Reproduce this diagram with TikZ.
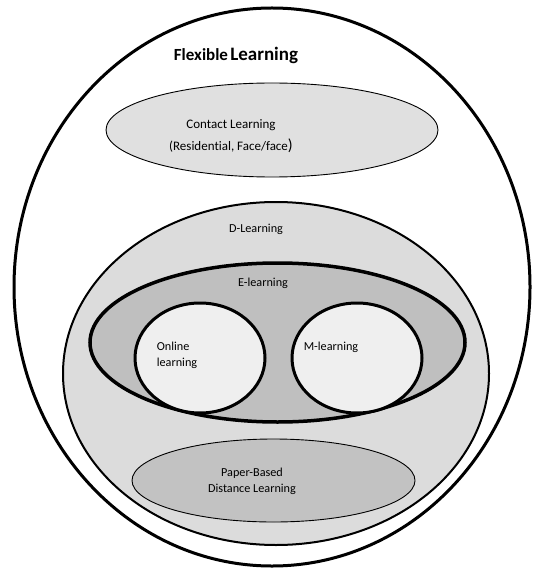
\documentclass[tikz,border=0pt]{standalone}
\usepackage{fontspec}
\setmainfont{Carlito}[Ligatures=CommonOff]
\usetikzlibrary{shapes.geometric}
\definecolor{contactgray}{HTML}{E0E0E0}
\definecolor{dgray}{HTML}{DCDCDC}
\definecolor{egray}{HTML}{BFBFBF}
\definecolor{lightgray}{HTML}{EFEFEF}
\definecolor{papergray}{HTML}{C2C2C2}
\tikzset{
  blob/.style={draw, ellipse, inner sep=0pt},
  lbl/.style={font=\fontsize{12.2}{16}\selectfont, inner sep=0pt}
}

\begin{document}
\begin{tikzpicture}[x=1pt,y=-1pt]
\useasboundingbox (0,0) rectangle (532,569);
\begin{scope}[shift={(0,0)}]
\node[blob, line width=3pt, fill=white, minimum width=516pt, minimum height=558pt] (flex) at (272,287) {};
\node[blob, line width=0.9pt, fill=contactgray, minimum width=332pt, minimum height=94pt] (contact) at (272,130) {};
\node[blob, line width=2pt, fill=dgray, minimum width=426pt, minimum height=343pt] (dl) at (276,373.5) {};
\node[blob, line width=3.5pt, fill=egray, minimum width=375pt, minimum height=159pt] (el) at (277.5,342.5) {};
\node[blob, line width=3pt, fill=lightgray, minimum width=130pt, minimum height=110pt] (online) at (200,358) {};
\node[blob, line width=3pt, fill=lightgray, minimum width=130pt, minimum height=110pt] (mobile) at (357,358) {};
\node[blob, line width=0.9pt, fill=papergray, minimum width=283pt, minimum height=83pt] (paper) at (273.5,480.5) {};
\node[inner sep=0pt, font=\bfseries] (flextxt) at (236,55) {{\fontsize{17}{20}\selectfont Flexible} {\fontsize{19}{22}\selectfont Learning}};
\node[lbl, font=\fontsize{13}{22}\selectfont, align=center] (contacttxt) at (231,136) {Contact Learning\\(Residential, Face/face{\fontsize{16}{22}\selectfont)}};
\node[lbl] (dltxt) at (256,229) {D-Learning};
\node[lbl] (eltxt) at (263,283) {E-learning};
\node[lbl, align=left] (onlinetxt) at (177,355) {Online\\learning};
\node[lbl] (mobiletxt) at (331,347) {M-learning};
\node[lbl, align=center] (papertxt) at (252,481) {Paper-Based\\Distance Learning};
\end{scope}
\end{tikzpicture}
\end{document}
